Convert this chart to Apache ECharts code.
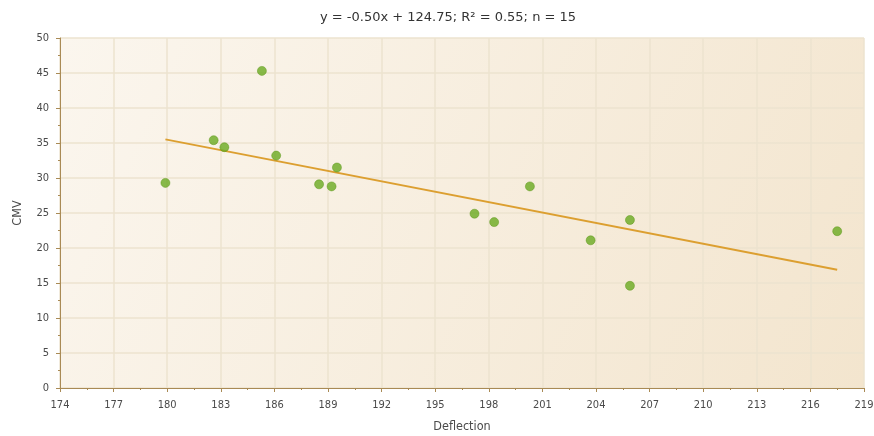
<!DOCTYPE html>
<html>
<head>
<meta charset="utf-8">
<script src="https://cdn.jsdelivr.net/npm/echarts@6/dist/echarts.min.js"></script>
<style>
  html, body { margin: 0; padding: 0; background: #ffffff; }
  #chart { width: 874px; height: 436px; }
</style>
</head>
<body>
<div id="chart"></div>
<script>
// Deflection vs CMV measurements
const deflection = [179.9, 182.6, 183.2, 185.3, 186.1, 188.5, 189.2, 189.5, 197.2, 198.3, 200.3, 203.7, 205.9, 205.9, 217.5];
const cmv        = [29.3, 35.4, 34.4, 45.3, 33.2, 29.1, 28.8, 31.5, 24.9, 23.7, 28.8, 21.1, 24.0, 14.6, 22.4];

const titleText = 'y = -0.50x + 124.75; R\u00b2 = 0.55; n = 15';
const xAxisName = 'Deflection';
const yAxisName = 'CMV';

// Least-squares fit through the measurements
function linearFit(xs, ys) {
  const n = xs.length;
  const mx = xs.reduce((a, b) => a + b, 0) / n;
  const my = ys.reduce((a, b) => a + b, 0) / n;
  let sxy = 0, sxx = 0;
  for (let i = 0; i < n; i++) {
    sxy += (xs[i] - mx) * (ys[i] - my);
    sxx += (xs[i] - mx) * (xs[i] - mx);
  }
  const slope = sxy / sxx;
  return { slope, intercept: my - slope * mx };
}
const fit = linearFit(deflection, cmv);
const xMin = Math.min(...deflection), xMax = Math.max(...deflection);
const trend = [[xMin, fit.intercept + fit.slope * xMin], [xMax, fit.intercept + fit.slope * xMax]];

const points = deflection.map((x, i) => [x, cmv[i]]);

const FONT = 'DejaVu Sans Condensed';
const axisColor = '#a98a55';
const labelStyle = { color: '#4a4a4a', fontFamily: FONT, fontSize: 11 };

const chart = echarts.init(document.getElementById('chart'), null, { renderer: 'canvas' });
chart.setOption({
  animation: false,
  title: {
    text: titleText,
    left: 443, top: 6, textAlign: 'center',
    textStyle: { color: '#333333', fontFamily: 'DejaVu Sans', fontSize: 13, fontWeight: 'normal' }
  },
  grid: {
    left: 60, right: 10, top: 38, bottom: 48,
    outerBoundsMode: 'none',
    containLabel: false,
    show: true,
    borderWidth: 0,
    backgroundColor: new echarts.graphic.LinearGradient(0, 0, 1, 1, [
      { offset: 0, color: '#fbf6ee' },
      { offset: 1, color: '#f3e5ce' }
    ])
  },
  xAxis: {
    type: 'value',
    min: 174, max: 219, interval: 3,
    name: xAxisName,
    nameLocation: 'middle', nameGap: 32,
    nameTextStyle: { color: '#4a4a4a', fontFamily: FONT, fontSize: 12.5 },
    axisLine: { show: true, onZero: false, lineStyle: { color: axisColor, width: 1 } },
    axisTick: { show: true, length: 4, lineStyle: { color: axisColor } },
    minorTick: { show: true, splitNumber: 2, length: 2, lineStyle: { color: axisColor } },
    axisLabel: Object.assign({ margin: 12 }, labelStyle),
    splitLine: { show: true, lineStyle: { color: '#ede3cf', width: 1.5 } }
  },
  yAxis: {
    type: 'value',
    min: 0, max: 50, interval: 5,
    name: yAxisName,
    nameLocation: 'middle', nameGap: 36,
    nameTextStyle: { color: '#4a4a4a', fontFamily: FONT, fontSize: 12.5 },
    axisLine: { show: true, lineStyle: { color: axisColor, width: 1 } },
    axisTick: { show: true, length: 4, lineStyle: { color: axisColor } },
    minorTick: { show: true, splitNumber: 2, length: 2, lineStyle: { color: axisColor } },
    axisLabel: Object.assign({ margin: 11 }, labelStyle),
    splitLine: { show: true, lineStyle: { color: '#ede3cf', width: 1.5 } }
  },
  series: [
    {
      type: 'line',
      data: trend,
      symbol: 'none',
      lineStyle: { color: '#dc9f30', width: 2 },
      z: 2
    },
    {
      type: 'scatter',
      data: points,
      symbolSize: 9,
      itemStyle: { color: '#6aaa20', borderColor: '#5a9518', borderWidth: 0.6 },
      z: 3
    }
  ]
});
</script>
</body>
</html>
